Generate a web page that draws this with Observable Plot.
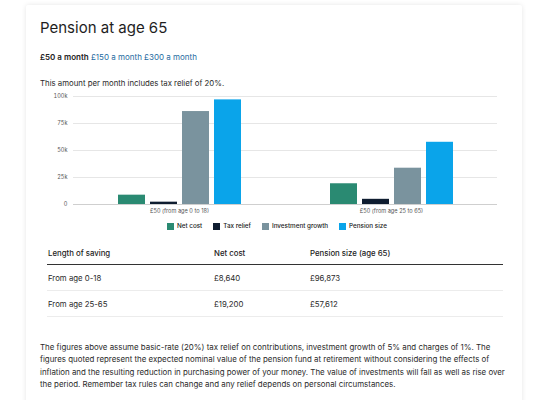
<!DOCTYPE html>
<html>
<head>
<meta charset="utf-8">
<script src="https://cdn.jsdelivr.net/npm/d3@7"></script>
<script src="https://cdn.jsdelivr.net/npm/@observablehq/plot@0.6"></script>
<style>
  html, body { margin: 0; padding: 0; background: #fff; }
  body { width: 540px; height: 400px; position: relative; overflow: hidden; font-family: Inter, "Noto Sans", sans-serif; color: #222; }
  .card { position: absolute; left: 26px; top: 5px; width: 496px; height: 420px; background: #fff; box-shadow: 0 0 5px rgba(0,0,0,0.10); border-radius: 2px; }
  .abs { position: absolute; line-height: 1; white-space: nowrap; }
  #title { left: 40px; top: 20px; font-size: 15px; font-weight: 400; color: #1e1e1e; }
  #tabs { left: 40px; top: 53px; font-size: 8px; }
  #tabs .active { font-weight: 600; color: #222; }
  #tabs .link { color: #1f6c9f; }
  #note { left: 40px; top: 80px; font-size: 7.8px; color: #2a2a2a; }
  #chart { position: absolute; left: 40px; top: 90px; }
  #legend { position: absolute; left: 167px; top: 222px; display: flex; gap: 11px; font-size: 6.3px; font-weight: 500; color: #222; align-items: center; }
  #legend .item { display: flex; align-items: center; gap: 3px; }
  #legend .sw { width: 7px; height: 7px; display: inline-block; }
  #table { position: absolute; left: 47px; top: 242px; width: 456px; border-collapse: collapse; font-size: 7.8px; }
  #table th { text-align: left; font-weight: 500; height: 22px; padding: 0 0 0 1px; border-bottom: 1.5px solid #333; color: #222; }
  #table td { height: 25px; padding: 0 0 0 1px; border-bottom: 1px solid #ececec; color: #2a2a2a; }
  #foot { position: absolute; left: 40px; top: 341px; width: 472px; font-size: 7.9px; line-height: 12.4px; color: #2a2a2a; }
</style>
</head>
<body>
<div class="card"></div>
<div id="title" class="abs">Pension at age 65</div>
<div id="tabs" class="abs"></div>
<div id="note" class="abs">This amount per month includes tax relief of 20%.</div>
<div id="chart"></div>
<div id="legend"></div>
<table id="table"></table>
<div id="foot">The figures above assume basic-rate (20%) tax relief on contributions, investment growth of 5% and charges of 1%. The figures quoted represent the expected nominal value of the pension fund at retirement without considering the effects of inflation and the resulting reduction in purchasing power of your money. The value of investments will fall as well as rise over the period. Remember tax rules can change and any relief depends on personal circumstances.</div>
<script>
// ---- data ----
const tabs = ["£50 a month", "£150 a month", "£300 a month"];
const groups = ["£50 (from age 0 to 18)", "£50 (from age 25 to 65)"];
const series = ["Net cost", "Tax relief", "Investment growth", "Pension size"];
const seriesColors = ["#2a8a72", "#0f1d30", "#7a939e", "#0aa4ea"];
const netCost = [8640, 19200];
const taxRelief = [2160, 4800];
const investmentGrowth = [86073, 33612];
const pensionSize = [96873, 57612];
const yTicks = [0, 25000, 50000, 75000, 100000];
const yTickLabels = ["0", "25k", "50k", "75k", "100k"];
const tableHeaders = ["Length of saving", "Net cost", "Pension size (age 65)"];
const savingPeriods = ["From age 0-18", "From age 25-65"];

// ---- tabs ----
document.getElementById("tabs").innerHTML = tabs.map((t, i) =>
  `<span class="${i === 0 ? "active" : "link"}">${t}</span>`).join(" ");

// ---- chart ----
const valuesBySeries = [netCost, taxRelief, investmentGrowth, pensionSize];
const rows = [];
groups.forEach((g, gi) => series.forEach((s, si) => rows.push({group: g, series: s, value: valuesBySeries[si][gi]})));

const chart = Plot.plot({
  width: 470,
  height: 130,
  marginLeft: 32,
  marginRight: 13,
  marginTop: 6,
  marginBottom: 16,
  style: {fontFamily: "Inter, 'Noto Sans', sans-serif", fontSize: "5.6px", color: "#555", background: "transparent"},
  fx: {domain: groups, padding: 0, label: null, tickSize: 0, tickPadding: 5},
  x: {domain: series, paddingInner: 0.16, paddingOuter: 1.39, axis: null},
  y: {domain: [0, 100000], ticks: yTicks, tickFormat: d => yTickLabels[yTicks.indexOf(d)], label: null, tickSize: 0, tickPadding: 6},
  color: {domain: series, range: seriesColors},
  marks: [
    Plot.gridY(yTicks.slice(1), {stroke: "#e6e6e6", strokeOpacity: 1}),
    Plot.ruleY([0], {stroke: "#cfcfcf"}),
    Plot.barY(rows, {fx: "group", x: "series", y: "value", fill: "series"})
  ]
});
document.getElementById("chart").appendChild(chart);

// ---- legend ----
document.getElementById("legend").innerHTML = series.map((s, i) =>
  `<span class="item"><span class="sw" style="background:${seriesColors[i]}"></span>${s}</span>`).join("");

// ---- table ----
const fmt = d3.format(",");
const table = document.getElementById("table");
const colWidths = [166, 96, 194];
table.innerHTML = `<tr>${tableHeaders.map((h, i) => `<th style="width:${colWidths[i] - 1}px">${h}</th>`).join("")}</tr>` +
  savingPeriods.map((p, i) => `<tr><td>${p}</td><td>£${fmt(netCost[i])}</td><td>£${fmt(pensionSize[i])}</td></tr>`).join("");
</script>
</body>
</html>
